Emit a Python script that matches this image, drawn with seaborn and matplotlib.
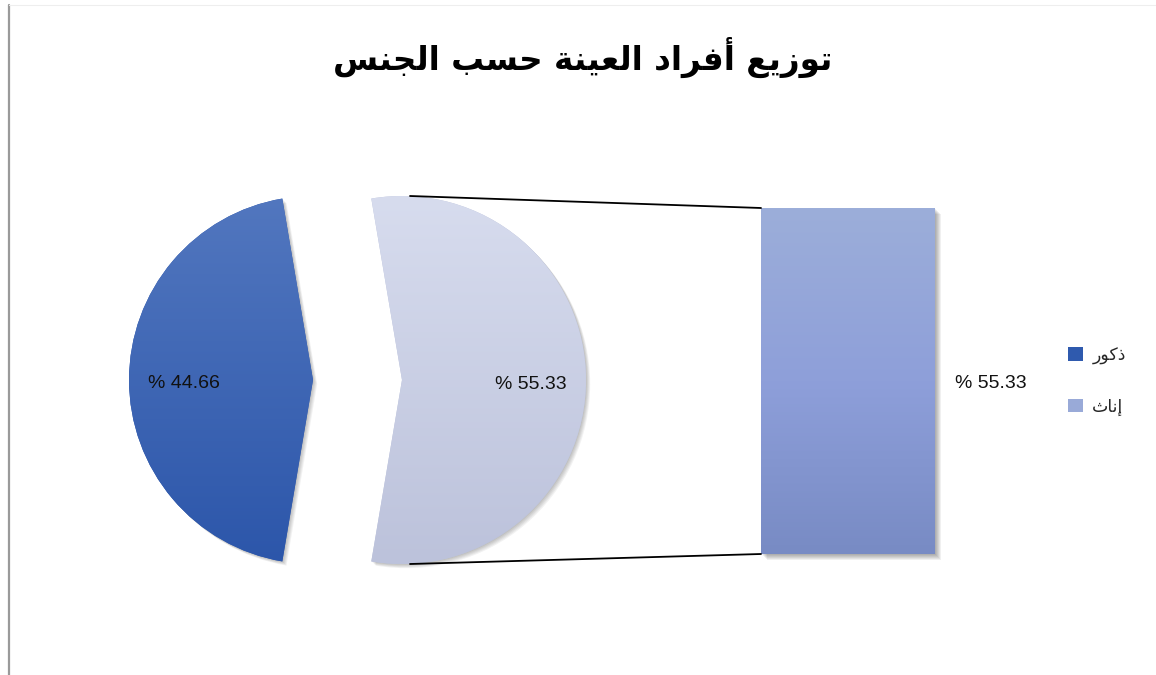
import numpy as np
import pandas as pd
import matplotlib
matplotlib.use("Agg")
import matplotlib.pyplot as plt
import seaborn as sns
from matplotlib.patches import Patch, PathPatch
from matplotlib.patches import ConnectionPatch
from matplotlib.colors import to_rgb
from matplotlib.lines import Line2D
import matplotlib.transforms as mtransforms

# ---- data -----------------------------------------------------------------
title_text = "توزيع أفراد العينة حسب الجنس"
categories = ["ذكور", "إناث"]          # males, females
shares = [44.66, 55.33]                 # percent of the sample
bar_values = [55.33]                    # the female share broken out as a bar

# ---- colours ----------------------------------------------------------------
male_grad = ["#5277bf", "#2c56aa"]
female_grad = ["#d7dcee", "#bcc2db"]
bar_grad = ["#9caed9", "#8e9fda", "#788bc4"]
legend_colors = ["#2f5aae", "#99aad8"]

# ---- minimal Arabic shaping (contextual forms + visual order) --------------
FORMS = {  # isolated, final, initial, medial
    "ا": ("\uFE8D", "\uFE8E", None, None),
    "أ": ("\uFE83", "\uFE84", None, None),
    "إ": ("\uFE87", "\uFE88", None, None),
    "ب": ("\uFE8F", "\uFE90", "\uFE91", "\uFE92"),
    "ة": ("\uFE93", "\uFE94", None, None),
    "ت": ("\uFE95", "\uFE96", "\uFE97", "\uFE98"),
    "ث": ("\uFE99", "\uFE9A", "\uFE9B", "\uFE9C"),
    "ج": ("\uFE9D", "\uFE9E", "\uFE9F", "\uFEA0"),
    "ح": ("\uFEA1", "\uFEA2", "\uFEA3", "\uFEA4"),
    "د": ("\uFEA9", "\uFEAA", None, None),
    "ذ": ("\uFEAB", "\uFEAC", None, None),
    "ر": ("\uFEAD", "\uFEAE", None, None),
    "ز": ("\uFEAF", "\uFEB0", None, None),
    "س": ("\uFEB1", "\uFEB2", "\uFEB3", "\uFEB4"),
    "ع": ("\uFEC9", "\uFECA", "\uFECB", "\uFECC"),
    "ف": ("\uFED1", "\uFED2", "\uFED3", "\uFED4"),
    "ك": ("\uFED9", "\uFEDA", "\uFEDB", "\uFEDC"),
    "ل": ("\uFEDD", "\uFEDE", "\uFEDF", "\uFEE0"),
    "ن": ("\uFEE5", "\uFEE6", "\uFEE7", "\uFEE8"),
    "و": ("\uFEED", "\uFEEE", None, None),
    "ي": ("\uFEF1", "\uFEF2", "\uFEF3", "\uFEF4"),
}


def shape_ar(text):
    chars = list(text)
    out = []
    for i, c in enumerate(chars):
        if c not in FORMS:
            out.append(c)
            continue
        prev = chars[i - 1] if i > 0 else None
        nxt = chars[i + 1] if i + 1 < len(chars) else None
        join_prev = prev in FORMS and FORMS[prev][2] is not None
        join_next = FORMS[c][2] is not None and nxt in FORMS
        iso, fin, ini, med = FORMS[c]
        if join_prev and join_next:
            out.append(med)
        elif join_prev:
            out.append(fin)
        elif join_next:
            out.append(ini)
        else:
            out.append(iso)
    return "".join(reversed(out))


def vgradient(stops, n=256):
    cols = np.array([to_rgb(s) for s in stops])
    t = np.linspace(0, 1, n)
    pos = np.linspace(0, 1, len(stops))
    arr = np.stack([np.interp(t, pos, cols[:, k]) for k in range(3)], axis=1)
    return arr[:, None, :]


def soft_shadow(ax, patch, dx=3, dy=-3, layers=5, alpha=0.05):
    for k in range(1, layers + 1):
        off = mtransforms.Affine2D().translate(dx * k / layers * 1.4, dy * k / layers * 1.4)
        sh = PathPatch(patch.get_path(), transform=patch.get_transform() + off,
                       facecolor="black", edgecolor="none", alpha=alpha, zorder=0.5)
        ax.add_patch(sh)


sns.set_theme(style="white")
plt.rcParams["font.family"] = ["Liberation Sans", "DejaVu Sans"]
ar_font = ["DejaVu Sans"]

W, H = 1156, 675
fig = plt.figure(figsize=(W / 100, H / 100), dpi=100)
fig.patch.set_facecolor("white")

ax = fig.add_axes([0, 0, 1, 1])

# ---- exploded pie -----------------------------------------------------------
center = (357.5, 295.0)
radius = 184.0
explode_px = 44.5
total = sum(shares)
start = 180 - shares[0] / total * 180       # male slice centred on the left
wedges, _ = ax.pie(shares, startangle=start, counterclock=True, center=center,
                   radius=radius, explode=[explode_px] * 2,
                   wedgeprops=dict(edgecolor="none", linewidth=0))

grads = [male_grad, female_grad]
mid_angles = []
acc = start
for w, s in zip(wedges, shares):
    span = s / total * 360
    mid_angles.append(np.deg2rad(acc + span / 2))
    acc += span

for w, g in zip(wedges, grads):
    soft_shadow(ax, w, dx=3, dy=-3)
    w.set_facecolor(g[-1])
    w.set_zorder(1)
    cx, cy = w.center
    im = ax.imshow(vgradient(g), extent=(cx - radius, cx + radius, cy - radius, cy + radius),
                   origin="upper", aspect="auto", zorder=1.5, interpolation="bilinear")
    im.set_clip_path(w)

for w, s, ang in zip(wedges, shares, mid_angles):
    cx, cy = w.center
    tx = cx + 0.70 * radius * np.cos(ang)
    ty = cy + 0.70 * radius * np.sin(ang) - 4
    ax.text(tx, ty, f"% {s:.2f}", ha="center", va="center", fontsize=14,
            color="#111111", zorder=3)

ax.set_xlim(0, W)
ax.set_ylim(0, H)
ax.set_aspect("equal")
ax.axis("off")

# ---- bar of the broken-out share ---------------------------------------------
ax_bar = fig.add_axes([761 / W, (H - 554) / H, 174 / W, 346 / H])
bar_df = pd.DataFrame({"group": [categories[1]], "value": bar_values})
sns.barplot(data=bar_df, x="group", y="value", width=1.0, color=bar_grad[1],
            ax=ax_bar, saturation=1, linewidth=0)
ax_bar.set_xlim(-0.5, 0.5)
ax_bar.set_ylim(0, sum(bar_values))
ax_bar.axis("off")
bar_patch = ax_bar.patches[0]
soft_shadow(ax_bar, bar_patch, dx=4, dy=-4, layers=6, alpha=0.06)
for p in ax_bar.patches[1:]:
    p.set_clip_on(False)
bim = ax_bar.imshow(vgradient(bar_grad), extent=(-0.5, 0.5, 0, sum(bar_values)),
                    origin="upper", aspect="auto", zorder=2, interpolation="bilinear")
bim.set_clip_path(bar_patch)
ax_bar.annotate(f"% {bar_values[0]:.2f}", xy=(0.5, bar_values[0] / 2),
                xytext=(20, -3), textcoords="offset pixels", ha="left", va="center",
                fontsize=14, color="#111111", annotation_clip=False)

# ---- connector lines from the pie to the bar ---------------------------------
fcx, fcy = wedges[1].center
for yb, yp in [(sum(bar_values), fcy + radius), (0, fcy - radius)]:
    con = ConnectionPatch(xyA=(fcx + 8, yp), coordsA=ax.transData,
                          xyB=(-0.5, yb), coordsB=ax_bar.transData,
                          color="black", linewidth=1.3, zorder=0.8)
    fig.add_artist(con)

# ---- title --------------------------------------------------------------------
fig.text(583 / W, 1 - 57 / H, shape_ar(title_text), ha="center", va="center",
         fontsize=23.5, fontweight="bold", family=ar_font, color="black")

# ---- legend -------------------------------------------------------------------
handles = [Patch(facecolor=c, edgecolor="none") for c in legend_colors]
fig.legend(handles, [shape_ar(c) for c in categories], loc="center left",
           bbox_to_anchor=(1068 / W, 1 - 381 / H), frameon=False,
           prop=dict(family=ar_font, size=12.5), handlelength=0.85, handleheight=0.85,
           handletextpad=0.55, labelspacing=1.9, borderpad=0, borderaxespad=0)

# ---- chart frame edge ----------------------------------------------------------
fig.add_artist(Line2D([8.5 / W, 8.5 / W], [0, 1 - 5 / H], transform=fig.transFigure,
                      color="#9a9a9a", linewidth=1.6))
fig.add_artist(Line2D([8.5 / W, 1], [1 - 5 / H, 1 - 5 / H], transform=fig.transFigure,
                      color="#eeeeee", linewidth=0.8))

fig.savefig("out.png", dpi=100, facecolor="white")
